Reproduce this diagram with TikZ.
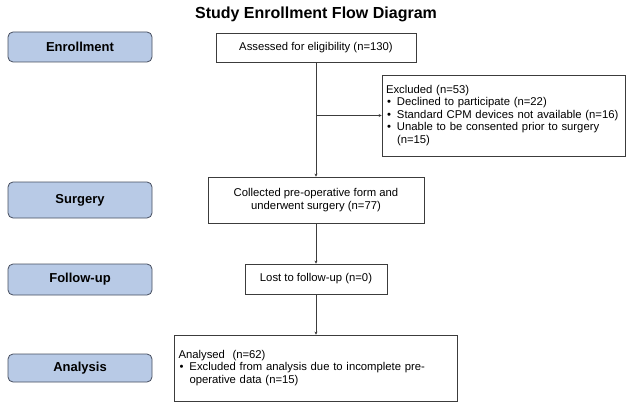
\documentclass[tikz,border=0pt]{standalone}
\usepackage{fontspec}
\setmainfont{Liberation Sans}
\usepackage{tikz}
\usetikzlibrary{arrows.meta}
\definecolor{stagefill}{RGB}{184,202,230}
\definecolor{stageline}{RGB}{70,78,95}
\definecolor{boxline}{RGB}{60,60,60}
\tikzstyle{stage} = [draw=stageline, fill=stagefill, rounded corners=5pt, minimum width=144pt, inner sep=0pt, font=\fontsize{13}{15}\selectfont\bfseries]
\tikzstyle{flowbox} = [draw=boxline, fill=white, inner sep=0pt, align=center, font=\fontsize{11.3}{12.5}\selectfont]
\tikzstyle{listbox} = [flowbox, align=left, inner xsep=4pt]
\tikzstyle{arrow} = [boxline, -{Stealth[length=3pt,width=3pt]}]
\newcommand{\bitem}{\makebox[11pt][l]{\hspace{1pt}\textbullet}}
\newcommand{\bcont}{\hspace*{11pt}}

\begin{document}
\begin{tikzpicture}[x=1pt,y=-1pt,line width=0.8pt]
    \useasboundingbox (0,0) rectangle (631,406);
    \node[font=\fontsize{16}{19}\selectfont\bfseries] (title) at (316,14) {Study Enrollment Flow Diagram};

    % stage labels
    \node[stage, minimum height=30pt] (enroll) at (80,47) {Enrollment};
    \node[stage, minimum height=36pt] (surg) at (80,200) {Surgery};
    \node[stage, minimum height=31pt] (follow) at (80,279.5) {Follow-up};
    \node[stage, minimum height=28pt] (analysis) at (80,368) {Analysis};

    % flow boxes
    \node[flowbox, minimum width=200pt, minimum height=29pt] (assess) at (316,47.5) {Assessed for eligibility (n=130)};
    \node[listbox, text width=235pt, minimum height=81pt] (excl) at (503.5,115.5) {Excluded (n=53)\\
        \bitem Declined to participate (n=22)\\
        \bitem Standard CPM devices not available (n=16)\\
        \bitem Unable to be consented prior to surgery\\
        \bcont (n=15)};
    \node[flowbox, minimum width=216pt, minimum height=46pt] (collect) at (316,200) {Collected pre-operative form and\\underwent surgery (n=77)};
    \node[flowbox, minimum width=142pt, minimum height=30pt] (lost) at (316,279) {Lost to follow-up (n=0)};
    \node[listbox, text width=275pt, minimum height=66pt] (analysed) at (316,368) {Analysed\ \ (n=62)\\
        \bitem Excluded from analysis due to incomplete pre-\\
        \bcont operative data (n=15)};

    % connectors
    \coordinate (split) at (assess.south |- excl.west);
    \draw[arrow] (assess.south) -- (collect.north);
    \draw[arrow] (split) -- (excl.west);
    \draw[arrow] (collect.south) -- (lost.north);
    \draw[arrow] (lost.south) -- (analysed.north);
\end{tikzpicture}
\end{document}
